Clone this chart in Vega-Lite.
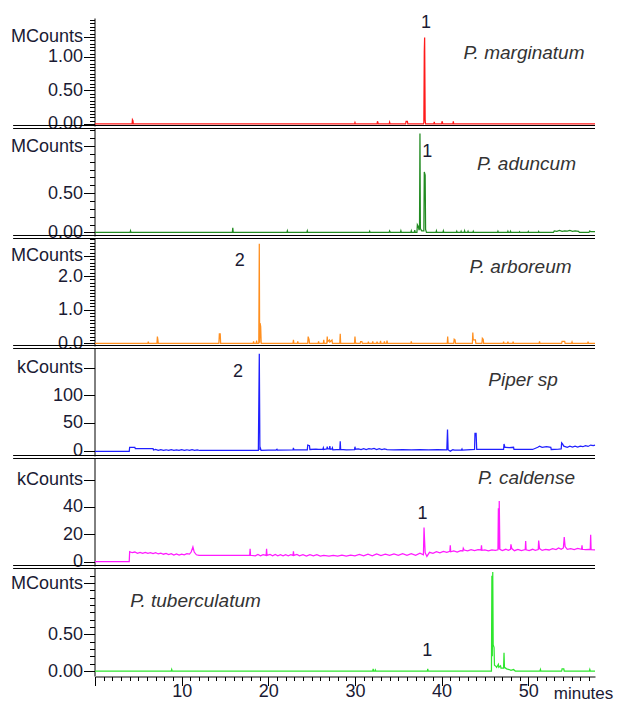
{
"$schema": "https://vega.github.io/schema/vega-lite/v6.json",
"padding": {"top": 11, "left": 5, "right": 5, "bottom": 2},
"spacing": 2,
"bounds": "flush",
"config": {
  "view": {"stroke": null},
  "font": "Liberation Sans",
  "axis": {"domainColor": "#000", "tickColor": "#000", "labelColor": "#1a1a33", "labelFontSize": 18, "labelFont": "Liberation Sans", "grid": false, "labelFlush": false, "labelOverlap": false},
  "axisY": {"minExtent": 89.5, "maxExtent": 89.5, "offset": 0.5, "tickSize": 11, "labelPadding": 1}
},
"datasets": {
  "p1": [{"t":0,"v":0},{"t":4.28,"v":0},{"t":4.32,"v":0.065},{"t":4.38,"v":0.05},{"t":4.42,"v":0},{"t":29.95,"v":0},{"t":30.0,"v":0.02},{"t":30.05,"v":0},{"t":32.55,"v":0},{"t":32.6,"v":0.04},{"t":32.65,"v":0.02},{"t":32.7,"v":0},{"t":33.95,"v":0},{"t":34.0,"v":0.025},{"t":34.05,"v":0},{"t":35.85,"v":0},{"t":35.9,"v":0.04},{"t":36.05,"v":0.04},{"t":36.1,"v":0},{"t":37.9,"v":0},{"t":37.95,"v":0.02},{"t":38.0,"v":1.07},{"t":38.04,"v":1.29},{"t":38.1,"v":0.05},{"t":38.15,"v":0},{"t":39.1,"v":0},{"t":39.15,"v":0.03},{"t":39.2,"v":0},{"t":40.0,"v":0},{"t":40.05,"v":0.04},{"t":40.1,"v":0.02},{"t":40.15,"v":0},{"t":41.3,"v":0},{"t":41.35,"v":0.04},{"t":41.4,"v":0},{"t":57.7,"v":0}],
  "p2": [{"t":0,"v":0},{"t":4.05,"v":0},{"t":4.1,"v":0.02},{"t":4.15,"v":0},{"t":15.85,"v":0},{"t":15.9,"v":0.06},{"t":15.95,"v":0},{"t":22.15,"v":0},{"t":22.2,"v":0.02},{"t":22.25,"v":0},{"t":24.45,"v":0},{"t":24.5,"v":0.02},{"t":24.55,"v":0},{"t":31.65,"v":0},{"t":31.7,"v":0.015},{"t":31.75,"v":0},{"t":33.95,"v":0},{"t":34.0,"v":0.02},{"t":34.05,"v":0.01},{"t":34.1,"v":0},{"t":35.25,"v":0},{"t":35.3,"v":0.02},{"t":35.35,"v":0},{"t":36.45,"v":0},{"t":36.5,"v":0.02},{"t":36.55,"v":0},{"t":36.85,"v":0},{"t":36.9,"v":0.03},{"t":36.95,"v":0},{"t":37.15,"v":0},{"t":37.2,"v":0.1},{"t":37.3,"v":0.08},{"t":37.4,"v":0.03},{"t":37.45,"v":0.05},{"t":37.5,"v":1.26},{"t":37.55,"v":0.05},{"t":37.7,"v":0.02},{"t":37.95,"v":0.02},{"t":38.0,"v":0.77},{"t":38.1,"v":0.73},{"t":38.15,"v":0.04},{"t":38.25,"v":0},{"t":39.35,"v":0},{"t":39.4,"v":0.02},{"t":39.45,"v":0},{"t":40.15,"v":0},{"t":40.2,"v":0.02},{"t":40.25,"v":0},{"t":41.7,"v":0},{"t":41.75,"v":0.015},{"t":41.8,"v":0},{"t":42.2,"v":0},{"t":42.25,"v":0.015},{"t":42.3,"v":0},{"t":42.6,"v":0},{"t":42.65,"v":0.02},{"t":42.7,"v":0},{"t":43.0,"v":0},{"t":43.05,"v":0.015},{"t":43.1,"v":0},{"t":43.6,"v":0},{"t":43.65,"v":0.015},{"t":43.7,"v":0},{"t":46.45,"v":0},{"t":46.5,"v":0.015},{"t":46.55,"v":0},{"t":47.6,"v":0},{"t":47.65,"v":0.015},{"t":47.7,"v":0},{"t":47.9,"v":0},{"t":47.95,"v":0.015},{"t":48.0,"v":0},{"t":48.95,"v":0},{"t":49.0,"v":0.01},{"t":49.05,"v":0},{"t":49.95,"v":0},{"t":50.0,"v":0.012},{"t":50.05,"v":0},{"t":51.15,"v":0},{"t":51.2,"v":0.012},{"t":51.25,"v":0},{"t":52.9,"v":0},{"t":53.0,"v":0.02},{"t":53.3,"v":0.015},{"t":53.6,"v":0.025},{"t":53.9,"v":0.015},{"t":54.2,"v":0.02},{"t":54.5,"v":0.018},{"t":54.8,"v":0.025},{"t":55.1,"v":0.015},{"t":55.4,"v":0.02},{"t":55.8,"v":0.015},{"t":55.9,"v":0},{"t":57.0,"v":0},{"t":57.1,"v":0.02},{"t":57.2,"v":0.01},{"t":57.7,"v":0.01}],
  "p3": [{"t":0,"v":0},{"t":6.1,"v":0},{"t":6.15,"v":0.05},{"t":6.2,"v":0},{"t":7.15,"v":0},{"t":7.2,"v":0.2},{"t":7.25,"v":0.12},{"t":7.3,"v":0},{"t":14.3,"v":0},{"t":14.35,"v":0.28},{"t":14.45,"v":0.28},{"t":14.5,"v":0},{"t":18.25,"v":0},{"t":18.3,"v":0.06},{"t":18.35,"v":0},{"t":18.6,"v":0},{"t":18.65,"v":0.08},{"t":18.7,"v":0},{"t":18.9,"v":0},{"t":18.96,"v":2.96},{"t":19.0,"v":0.02},{"t":19.05,"v":0.6},{"t":19.12,"v":0.5},{"t":19.18,"v":0},{"t":22.85,"v":0},{"t":22.9,"v":0.1},{"t":22.95,"v":0},{"t":23.35,"v":0},{"t":23.4,"v":0.06},{"t":23.45,"v":0},{"t":24.55,"v":0},{"t":24.6,"v":0.2},{"t":24.7,"v":0.12},{"t":24.75,"v":0},{"t":25.75,"v":0},{"t":25.8,"v":0.06},{"t":25.85,"v":0},{"t":26.35,"v":0},{"t":26.4,"v":0.1},{"t":26.45,"v":0},{"t":26.75,"v":0},{"t":26.8,"v":0.2},{"t":26.85,"v":0.05},{"t":27.05,"v":0.1},{"t":27.1,"v":0.04},{"t":27.35,"v":0.1},{"t":27.4,"v":0},{"t":28.25,"v":0},{"t":28.3,"v":0.28},{"t":28.35,"v":0},{"t":29.95,"v":0},{"t":30.0,"v":0.2},{"t":30.05,"v":0.05},{"t":30.1,"v":0},{"t":30.6,"v":0},{"t":30.65,"v":0.05},{"t":30.8,"v":0.05},{"t":30.85,"v":0},{"t":31.5,"v":0},{"t":31.55,"v":0.05},{"t":31.6,"v":0},{"t":32.0,"v":0},{"t":32.05,"v":0.06},{"t":32.1,"v":0},{"t":32.5,"v":0},{"t":32.55,"v":0.05},{"t":32.6,"v":0},{"t":32.9,"v":0},{"t":32.95,"v":0.07},{"t":33.0,"v":0},{"t":33.35,"v":0},{"t":33.4,"v":0.06},{"t":33.45,"v":0},{"t":33.65,"v":0},{"t":33.7,"v":0.08},{"t":33.75,"v":0},{"t":36.45,"v":0},{"t":36.5,"v":0.06},{"t":36.55,"v":0},{"t":40.65,"v":0},{"t":40.7,"v":0.2},{"t":40.75,"v":0},{"t":41.4,"v":0},{"t":41.45,"v":0.12},{"t":41.55,"v":0.1},{"t":41.6,"v":0},{"t":43.55,"v":0},{"t":43.6,"v":0.32},{"t":43.65,"v":0.1},{"t":43.9,"v":0.1},{"t":43.95,"v":0},{"t":44.65,"v":0},{"t":44.7,"v":0.15},{"t":44.8,"v":0.12},{"t":44.85,"v":0},{"t":47.1,"v":0},{"t":47.15,"v":0.05},{"t":47.2,"v":0},{"t":47.6,"v":0},{"t":47.65,"v":0.05},{"t":47.7,"v":0},{"t":48.2,"v":0},{"t":48.25,"v":0.05},{"t":48.3,"v":0},{"t":51.25,"v":0},{"t":51.3,"v":0.06},{"t":51.35,"v":0},{"t":53.85,"v":0},{"t":53.9,"v":0.06},{"t":54.2,"v":0.06},{"t":54.25,"v":0},{"t":55.0,"v":0},{"t":55.05,"v":0.04},{"t":55.1,"v":0},{"t":56.85,"v":0},{"t":56.9,"v":0.05},{"t":56.95,"v":0},{"t":57.7,"v":0}],
  "p4": [{"t":0,"v":-1.5},{"t":3.95,"v":-1.5},{"t":4.0,"v":6},{"t":4.6,"v":6},{"t":4.65,"v":3.6},{"t":6.7,"v":3.6},{"t":6.75,"v":1},{"t":7.0,"v":2},{"t":7.3,"v":0.5},{"t":7.6,"v":1.8},{"t":7.9,"v":0.5},{"t":8.2,"v":1.5},{"t":8.5,"v":0.3},{"t":8.8,"v":1.8},{"t":9.1,"v":0.5},{"t":9.4,"v":1.5},{"t":9.7,"v":0.4},{"t":10.0,"v":1.8},{"t":10.3,"v":0.5},{"t":10.6,"v":1.5},{"t":10.9,"v":0.3},{"t":11.2,"v":1.6},{"t":11.5,"v":0.5},{"t":11.8,"v":1.2},{"t":12.1,"v":0.2},{"t":14.0,"v":0.2},{"t":16.0,"v":0.2},{"t":18.85,"v":0.3},{"t":18.96,"v":175},{"t":19.03,"v":1},{"t":19.1,"v":4},{"t":19.17,"v":0.5},{"t":20.0,"v":1.0},{"t":20.9,"v":1.0},{"t":21.0,"v":2.5},{"t":21.05,"v":1},{"t":22.85,"v":1.2},{"t":22.9,"v":5},{"t":22.95,"v":1.2},{"t":24.5,"v":1.5},{"t":24.55,"v":10},{"t":24.75,"v":9},{"t":24.8,"v":2},{"t":25.5,"v":2.5},{"t":25.8,"v":2},{"t":26.3,"v":2.5},{"t":26.35,"v":5},{"t":26.4,"v":2},{"t":26.75,"v":3},{"t":26.8,"v":7},{"t":26.85,"v":3},{"t":27.05,"v":3},{"t":27.1,"v":8},{"t":27.15,"v":2.5},{"t":27.35,"v":3},{"t":27.4,"v":5},{"t":27.45,"v":1.5},{"t":28.25,"v":2},{"t":28.3,"v":17},{"t":28.35,"v":2},{"t":29.0,"v":1.5},{"t":29.95,"v":1.8},{"t":30.0,"v":7},{"t":30.05,"v":2.5},{"t":30.4,"v":3},{"t":30.7,"v":2},{"t":31.0,"v":3.5},{"t":31.3,"v":2},{"t":31.6,"v":3.5},{"t":31.9,"v":2.5},{"t":32.2,"v":4},{"t":32.5,"v":2},{"t":32.8,"v":3.5},{"t":33.1,"v":2},{"t":33.4,"v":3},{"t":33.7,"v":1.8},{"t":34.5,"v":1.5},{"t":35.5,"v":1.8},{"t":36.5,"v":1.5},{"t":37.5,"v":1.8},{"t":38.5,"v":1.5},{"t":39.5,"v":1.8},{"t":40.6,"v":1.5},{"t":40.68,"v":38},{"t":40.75,"v":1.5},{"t":41.0,"v":-1},{"t":41.3,"v":1.5},{"t":41.5,"v":1.0},{"t":42.3,"v":1.5},{"t":42.35,"v":3},{"t":42.4,"v":1},{"t":43.8,"v":2},{"t":43.85,"v":31},{"t":43.98,"v":31},{"t":44.05,"v":2},{"t":44.5,"v":2},{"t":45.5,"v":2},{"t":46.5,"v":2},{"t":47.15,"v":2},{"t":47.2,"v":12},{"t":47.3,"v":6},{"t":47.4,"v":6},{"t":47.8,"v":5.5},{"t":48.3,"v":6},{"t":48.35,"v":2},{"t":49.5,"v":2},{"t":50.5,"v":2},{"t":51.1,"v":6},{"t":51.3,"v":8},{"t":51.6,"v":6},{"t":52.1,"v":7},{"t":52.6,"v":6},{"t":52.65,"v":2},{"t":53.5,"v":2.5},{"t":53.8,"v":3},{"t":53.85,"v":14},{"t":53.95,"v":12},{"t":54.1,"v":8},{"t":54.5,"v":6},{"t":54.8,"v":8},{"t":55.1,"v":6.5},{"t":55.4,"v":8},{"t":55.7,"v":6.5},{"t":56.0,"v":8},{"t":56.3,"v":7},{"t":56.6,"v":9},{"t":56.9,"v":7.5},{"t":57.2,"v":10},{"t":57.5,"v":9},{"t":57.7,"v":10}],
  "p5": [{"t":0,"v":0},{"t":3.95,"v":0},{"t":4.0,"v":7.3},{"t":4.3,"v":6.5},{"t":4.6,"v":7},{"t":4.9,"v":6},{"t":5.2,"v":6.8},{"t":5.5,"v":6},{"t":5.8,"v":6.8},{"t":6.1,"v":6},{"t":6.4,"v":6.6},{"t":6.7,"v":5.8},{"t":7.0,"v":6.5},{"t":7.3,"v":5.6},{"t":7.6,"v":6.2},{"t":7.9,"v":5.4},{"t":8.2,"v":6},{"t":8.5,"v":5.2},{"t":8.8,"v":5.8},{"t":9.1,"v":4.8},{"t":9.4,"v":5.6},{"t":9.7,"v":4.8},{"t":10.0,"v":5.5},{"t":10.3,"v":5},{"t":10.6,"v":5.8},{"t":10.9,"v":5.5},{"t":11.1,"v":7},{"t":11.3,"v":10.7},{"t":11.45,"v":7},{"t":11.7,"v":5},{"t":12.0,"v":4.6},{"t":14.0,"v":4.6},{"t":16.0,"v":4.6},{"t":17.85,"v":4.6},{"t":17.9,"v":9.4},{"t":17.95,"v":4.6},{"t":18.5,"v":4.2},{"t":18.8,"v":5.2},{"t":19.1,"v":4.2},{"t":19.4,"v":5},{"t":19.75,"v":4.5},{"t":19.8,"v":9.4},{"t":19.85,"v":4.5},{"t":20.2,"v":5.2},{"t":20.5,"v":4.2},{"t":20.8,"v":5.2},{"t":21.1,"v":4.3},{"t":21.4,"v":5},{"t":21.7,"v":4.2},{"t":22.0,"v":5},{"t":22.3,"v":4.3},{"t":22.6,"v":5},{"t":22.85,"v":4.5},{"t":22.9,"v":7.5},{"t":22.95,"v":4.5},{"t":23.3,"v":5.2},{"t":23.6,"v":4.2},{"t":24.0,"v":5},{"t":24.4,"v":4},{"t":24.8,"v":5},{"t":25.2,"v":4.2},{"t":25.6,"v":5},{"t":26.0,"v":4},{"t":26.4,"v":4.5},{"t":27,"v":4},{"t":27.5,"v":4.6},{"t":28,"v":4},{"t":28.5,"v":4.8},{"t":29,"v":4},{"t":29.5,"v":4.8},{"t":30,"v":4.2},{"t":30.5,"v":5.2},{"t":31,"v":4.2},{"t":31.5,"v":5.5},{"t":32,"v":4.3},{"t":32.5,"v":5.6},{"t":33,"v":4.4},{"t":33.5,"v":5.5},{"t":34,"v":4.5},{"t":34.5,"v":5.6},{"t":35,"v":4.5},{"t":35.5,"v":5.8},{"t":36,"v":4.6},{"t":36.5,"v":5.8},{"t":37,"v":4.6},{"t":37.5,"v":6.2},{"t":37.9,"v":5},{"t":37.97,"v":24.9},{"t":38.03,"v":16},{"t":38.1,"v":6.5},{"t":38.3,"v":3.8},{"t":38.6,"v":6.8},{"t":39.0,"v":6},{"t":39.4,"v":7.2},{"t":39.8,"v":6.4},{"t":40.2,"v":7.5},{"t":40.6,"v":6.8},{"t":40.95,"v":7.5},{"t":41.0,"v":12},{"t":41.05,"v":7.2},{"t":41.4,"v":7.8},{"t":41.8,"v":7},{"t":42.2,"v":8},{"t":42.45,"v":7.8},{"t":42.5,"v":9.8},{"t":42.6,"v":8.5},{"t":43,"v":7.8},{"t":43.4,"v":8.8},{"t":43.8,"v":8},{"t":44.2,"v":8.8},{"t":44.55,"v":8.5},{"t":44.6,"v":12},{"t":44.65,"v":8.2},{"t":45,"v":8.5},{"t":45.4,"v":7.8},{"t":45.8,"v":8.5},{"t":46.2,"v":8.2},{"t":46.5,"v":8.6},{"t":46.55,"v":39},{"t":46.6,"v":9},{"t":46.65,"v":44.4},{"t":46.72,"v":9},{"t":47.0,"v":8},{"t":47.4,"v":9},{"t":47.7,"v":8.2},{"t":47.95,"v":9},{"t":48.0,"v":12.6},{"t":48.1,"v":9.5},{"t":48.4,"v":8},{"t":48.8,"v":9},{"t":49.2,"v":8},{"t":49.65,"v":8.8},{"t":49.7,"v":15},{"t":49.75,"v":8.6},{"t":50.1,"v":8},{"t":50.5,"v":9},{"t":50.8,"v":8.2},{"t":51.15,"v":8.8},{"t":51.2,"v":15.4},{"t":51.3,"v":9.5},{"t":51.6,"v":8.2},{"t":52,"v":9},{"t":52.4,"v":8.5},{"t":52.8,"v":9.5},{"t":53.2,"v":8.8},{"t":53.5,"v":10},{"t":53.8,"v":9},{"t":54.05,"v":10},{"t":54.15,"v":18},{"t":54.25,"v":11},{"t":54.5,"v":9},{"t":54.9,"v":9.5},{"t":55.3,"v":8.8},{"t":55.7,"v":9.6},{"t":56.15,"v":9},{"t":56.2,"v":12},{"t":56.25,"v":9},{"t":56.6,"v":8.8},{"t":57.0,"v":9},{"t":57.15,"v":8.8},{"t":57.2,"v":19.6},{"t":57.25,"v":8.8},{"t":57.7,"v":8.6}],
  "p6": [{"t":0,"v":0},{"t":8.8,"v":0},{"t":8.85,"v":0.02},{"t":8.9,"v":0},{"t":32.05,"v":0},{"t":32.1,"v":0.03},{"t":32.15,"v":0},{"t":32.3,"v":0},{"t":32.35,"v":0.015},{"t":32.4,"v":0},{"t":38.35,"v":0},{"t":38.4,"v":0.03},{"t":38.45,"v":0},{"t":45.75,"v":0},{"t":45.8,"v":1.3},{"t":45.85,"v":0.2},{"t":45.9,"v":1.35},{"t":45.95,"v":0.36},{"t":46.05,"v":0.32},{"t":46.1,"v":0.08},{"t":46.3,"v":0.06},{"t":46.35,"v":0.05},{"t":46.55,"v":0.09},{"t":46.6,"v":0.05},{"t":46.8,"v":0.07},{"t":46.85,"v":0.04},{"t":47.15,"v":0.04},{"t":47.2,"v":0.25},{"t":47.25,"v":0.05},{"t":47.5,"v":0.03},{"t":47.8,"v":0.02},{"t":48.0,"v":0.01},{"t":48.3,"v":0.02},{"t":48.5,"v":0},{"t":51.35,"v":0},{"t":51.4,"v":0.02},{"t":51.45,"v":0},{"t":53.85,"v":0},{"t":53.9,"v":0.03},{"t":54.1,"v":0.03},{"t":54.15,"v":0},{"t":57.05,"v":0},{"t":57.1,"v":0.02},{"t":57.15,"v":0},{"t":57.7,"v":0}],
  "lab": [{"p":1,"t":38.2,"v":1.5,"s":"1","k":"n"},{"p":1,"t":49.5,"v":1.06,"s":"P. marginatum","k":"s"},{"p":2,"t":38.35,"v":1.02,"s":"1","k":"n"},{"p":2,"t":49.8,"v":0.875,"s":"P. aduncum","k":"s"},{"p":3,"t":16.7,"v":2.46,"s":"2","k":"n"},{"p":3,"t":49.1,"v":2.28,"s":"P. arboreum","k":"s"},{"p":4,"t":16.5,"v":141,"s":"2","k":"n"},{"p":4,"t":49.4,"v":127,"s":"Piper sp","k":"s"},{"p":5,"t":37.8,"v":35.1,"s":"1","k":"n"},{"p":5,"t":49.8,"v":61.4,"s":"P. caldense","k":"s"},{"p":6,"t":38.35,"v":0.27,"s":"1","k":"n"},{"p":6,"t":11.6,"v":0.96,"s":"P. tuberculatum","k":"s"}]
},
"vconcat": [
 {"width": 500, "height": 108, "resolve": {"axis": {"x": "independent", "y": "independent"}}, "layer": [
  {"data": {"name": "p1"}, "mark": {"type": "line", "color": "#ff1a1a", "strokeWidth": 1.25},
   "encoding": {"x": {"field": "t", "type": "quantitative", "scale": {"domain": [0, 57.7], "nice": false, "zero": false}, "axis": null},
    "y": {"field": "v", "type": "quantitative", "scale": {"domain": [-0.03, 1.582], "nice": false, "zero": false}, "title": null,
     "axis": {"orient": "left", "values": [0,0.05,0.1,0.15,0.2,0.25,0.3,0.35,0.4,0.45,0.5,0.55,0.6,0.65,0.7,0.75,0.8,0.85,0.9,0.95,1,1.05,1.1,1.15,1.2,1.25,1.3,1.35,1.4,1.45,1.5,1.55],
      "labelExpr": "round(datum.value*100)==130 ? 'MCounts' : (indexof([0,50,100], round(datum.value*100)) >= 0 ? format(datum.value, '.2f') : '')",
      "tickDash": {"condition": {"test": "indexof([0,50,100,130], round(datum.value*100)) >= 0", "value": []}, "value": [5, 40]}}}}},
  {"data": {"values": [{}]}, "mark": {"type": "rule", "color": "#000", "strokeWidth": 1},
   "encoding": {"x": {"datum": -9.45, "type": "quantitative", "scale": {"domain": [0, 57.7], "nice": false, "zero": false}, "axis": null}, "x2": {"datum": 57.7},
    "y": {"datum": -0.0225, "type": "quantitative", "scale": {"domain": [-0.03, 1.582], "nice": false, "zero": false}, "axis": null}}},
  {"data": {"name": "lab"}, "transform": [{"filter": "datum.p==1 && datum.k=='n'"}], "mark": {"type": "text", "fontSize": 18, "color": "#1a1a33", "align": "center", "baseline": "middle"},
   "encoding": {"x": {"field": "t", "type": "quantitative", "scale": {"domain": [0, 57.7], "nice": false, "zero": false}, "axis": null}, "y": {"field": "v", "type": "quantitative", "scale": {"domain": [-0.03, 1.582], "nice": false, "zero": false}, "axis": null}, "text": {"field": "s"}}},
  {"data": {"name": "lab"}, "transform": [{"filter": "datum.p==1 && datum.k=='s'"}], "mark": {"type": "text", "fontSize": 19, "fontStyle": "italic", "color": "#333333", "align": "center", "baseline": "middle"},
   "encoding": {"x": {"field": "t", "type": "quantitative", "scale": {"domain": [0, 57.7], "nice": false, "zero": false}, "axis": null}, "y": {"field": "v", "type": "quantitative", "scale": {"domain": [-0.03, 1.582], "nice": false, "zero": false}, "axis": null}, "text": {"field": "s"}}}
 ]},
 {"width": 500, "height": 108, "resolve": {"axis": {"x": "independent", "y": "independent"}}, "layer": [
  {"data": {"name": "p2"}, "mark": {"type": "line", "color": "#228b22", "strokeWidth": 1.25},
   "encoding": {"x": {"field": "t", "type": "quantitative", "scale": {"domain": [0, 57.7], "nice": false, "zero": false}, "axis": null},
    "y": {"field": "v", "type": "quantitative", "scale": {"domain": [-0.045, 1.33], "nice": false, "zero": false}, "title": null,
     "axis": {"orient": "left", "values": [0,0.1,0.2,0.3,0.4,0.5,0.6,0.7,0.8,0.9,1,1.1,1.2,1.3],
      "labelExpr": "round(datum.value*100)==110 ? 'MCounts' : (indexof([0,50], round(datum.value*100)) >= 0 ? format(datum.value, '.2f') : '')",
      "tickDash": {"condition": {"test": "indexof([0,50,110], round(datum.value*100)) >= 0", "value": []}, "value": [5, 40]}}}}},
  {"data": {"values": [{}]}, "mark": {"type": "rule", "color": "#000", "strokeWidth": 1},
   "encoding": {"x": {"datum": -9.45, "type": "quantitative", "scale": {"domain": [0, 57.7], "nice": false, "zero": false}, "axis": null}, "x2": {"datum": 57.7},
    "y": {"datum": -0.0386, "type": "quantitative", "scale": {"domain": [-0.045, 1.33], "nice": false, "zero": false}, "axis": null}}},
  {"data": {"values": [{}]}, "mark": {"type": "rule", "color": "#000", "strokeWidth": 1},
   "encoding": {"x": {"datum": -9.45, "type": "quantitative", "scale": {"domain": [0, 57.7], "nice": false, "zero": false}, "axis": null}, "x2": {"datum": 57.7},
    "y": {"datum": 1.3236, "type": "quantitative", "scale": {"domain": [-0.045, 1.33], "nice": false, "zero": false}, "axis": null}}},
  {"data": {"name": "lab"}, "transform": [{"filter": "datum.p==2 && datum.k=='n'"}], "mark": {"type": "text", "fontSize": 18, "color": "#1a1a33", "align": "center", "baseline": "middle"},
   "encoding": {"x": {"field": "t", "type": "quantitative", "scale": {"domain": [0, 57.7], "nice": false, "zero": false}, "axis": null}, "y": {"field": "v", "type": "quantitative", "scale": {"domain": [-0.045, 1.33], "nice": false, "zero": false}, "axis": null}, "text": {"field": "s"}}},
  {"data": {"name": "lab"}, "transform": [{"filter": "datum.p==2 && datum.k=='s'"}], "mark": {"type": "text", "fontSize": 19, "fontStyle": "italic", "color": "#333333", "align": "center", "baseline": "middle"},
   "encoding": {"x": {"field": "t", "type": "quantitative", "scale": {"domain": [0, 57.7], "nice": false, "zero": false}, "axis": null}, "y": {"field": "v", "type": "quantitative", "scale": {"domain": [-0.045, 1.33], "nice": false, "zero": false}, "axis": null}, "text": {"field": "s"}}}
 ]},
 {"width": 500, "height": 108, "resolve": {"axis": {"x": "independent", "y": "independent"}}, "layer": [
  {"data": {"name": "p3"}, "mark": {"type": "line", "color": "#ff8f1f", "strokeWidth": 1.25},
   "encoding": {"x": {"field": "t", "type": "quantitative", "scale": {"domain": [0, 57.7], "nice": false, "zero": false}, "axis": null},
    "y": {"field": "v", "type": "quantitative", "scale": {"domain": [-0.08, 3.134], "nice": false, "zero": false}, "title": null,
     "axis": {"orient": "left", "values": [0,0.1,0.2,0.3,0.4,0.5,0.6,0.7,0.8,0.9,1,1.1,1.2,1.3,1.4,1.5,1.6,1.7,1.8,1.9,2,2.1,2.2,2.3,2.4,2.5,2.6,2.7,2.8,2.9,3,3.1],
      "labelExpr": "round(datum.value*10)==26 ? 'MCounts' : (indexof([0,10,20], round(datum.value*10)) >= 0 ? format(datum.value, '.1f') : '')",
      "tickDash": {"condition": {"test": "indexof([0,10,20,26], round(datum.value*10)) >= 0", "value": []}, "value": [5, 40]}}}}},
  {"data": {"values": [{}]}, "mark": {"type": "rule", "color": "#000", "strokeWidth": 1},
   "encoding": {"x": {"datum": -9.45, "type": "quantitative", "scale": {"domain": [0, 57.7], "nice": false, "zero": false}, "axis": null}, "x2": {"datum": 57.7},
    "y": {"datum": -0.0651, "type": "quantitative", "scale": {"domain": [-0.08, 3.134], "nice": false, "zero": false}, "axis": null}}},
  {"data": {"values": [{}]}, "mark": {"type": "rule", "color": "#000", "strokeWidth": 1},
   "encoding": {"x": {"datum": -9.45, "type": "quantitative", "scale": {"domain": [0, 57.7], "nice": false, "zero": false}, "axis": null}, "x2": {"datum": 57.7},
    "y": {"datum": 3.1191, "type": "quantitative", "scale": {"domain": [-0.08, 3.134], "nice": false, "zero": false}, "axis": null}}},
  {"data": {"name": "lab"}, "transform": [{"filter": "datum.p==3 && datum.k=='n'"}], "mark": {"type": "text", "fontSize": 18, "color": "#1a1a33", "align": "center", "baseline": "middle"},
   "encoding": {"x": {"field": "t", "type": "quantitative", "scale": {"domain": [0, 57.7], "nice": false, "zero": false}, "axis": null}, "y": {"field": "v", "type": "quantitative", "scale": {"domain": [-0.08, 3.134], "nice": false, "zero": false}, "axis": null}, "text": {"field": "s"}}},
  {"data": {"name": "lab"}, "transform": [{"filter": "datum.p==3 && datum.k=='s'"}], "mark": {"type": "text", "fontSize": 19, "fontStyle": "italic", "color": "#333333", "align": "center", "baseline": "middle"},
   "encoding": {"x": {"field": "t", "type": "quantitative", "scale": {"domain": [0, 57.7], "nice": false, "zero": false}, "axis": null}, "y": {"field": "v", "type": "quantitative", "scale": {"domain": [-0.08, 3.134], "nice": false, "zero": false}, "axis": null}, "text": {"field": "s"}}}
 ]},
 {"width": 500, "height": 108, "resolve": {"axis": {"x": "independent", "y": "independent"}}, "layer": [
  {"data": {"name": "p4"}, "mark": {"type": "line", "color": "#2020ff", "strokeWidth": 1.25},
   "encoding": {"x": {"field": "t", "type": "quantitative", "scale": {"domain": [0, 57.7], "nice": false, "zero": false}, "axis": null},
    "y": {"field": "v", "type": "quantitative", "scale": {"domain": [-9.75, 185.2], "nice": false, "zero": false}, "title": null,
     "axis": {"orient": "left", "values": [0, 50, 100, 150], "labelExpr": "datum.value==150 ? 'kCounts' : datum.label"}}}},
  {"data": {"values": [{}]}, "mark": {"type": "rule", "color": "#000", "strokeWidth": 1},
   "encoding": {"x": {"datum": -9.45, "type": "quantitative", "scale": {"domain": [0, 57.7], "nice": false, "zero": false}, "axis": null}, "x2": {"datum": 57.7},
    "y": {"datum": -8.8475, "type": "quantitative", "scale": {"domain": [-9.75, 185.2], "nice": false, "zero": false}, "axis": null}}},
  {"data": {"values": [{}]}, "mark": {"type": "rule", "color": "#000", "strokeWidth": 1},
   "encoding": {"x": {"datum": -9.45, "type": "quantitative", "scale": {"domain": [0, 57.7], "nice": false, "zero": false}, "axis": null}, "x2": {"datum": 57.7},
    "y": {"datum": 184.2975, "type": "quantitative", "scale": {"domain": [-9.75, 185.2], "nice": false, "zero": false}, "axis": null}}},
  {"data": {"name": "lab"}, "transform": [{"filter": "datum.p==4 && datum.k=='n'"}], "mark": {"type": "text", "fontSize": 18, "color": "#1a1a33", "align": "center", "baseline": "middle"},
   "encoding": {"x": {"field": "t", "type": "quantitative", "scale": {"domain": [0, 57.7], "nice": false, "zero": false}, "axis": null}, "y": {"field": "v", "type": "quantitative", "scale": {"domain": [-9.75, 185.2], "nice": false, "zero": false}, "axis": null}, "text": {"field": "s"}}},
  {"data": {"name": "lab"}, "transform": [{"filter": "datum.p==4 && datum.k=='s'"}], "mark": {"type": "text", "fontSize": 19, "fontStyle": "italic", "color": "#333333", "align": "center", "baseline": "middle"},
   "encoding": {"x": {"field": "t", "type": "quantitative", "scale": {"domain": [0, 57.7], "nice": false, "zero": false}, "axis": null}, "y": {"field": "v", "type": "quantitative", "scale": {"domain": [-9.75, 185.2], "nice": false, "zero": false}, "axis": null}, "text": {"field": "s"}}}
 ]},
 {"width": 500, "height": 108, "resolve": {"axis": {"x": "independent", "y": "independent"}}, "layer": [
  {"data": {"name": "p5"}, "mark": {"type": "line", "color": "#ff1aff", "strokeWidth": 1.25},
   "encoding": {"x": {"field": "t", "type": "quantitative", "scale": {"domain": [0, 57.7], "nice": false, "zero": false}, "axis": null},
    "y": {"field": "v", "type": "quantitative", "scale": {"domain": [-3.22, 75.8], "nice": false, "zero": false}, "title": null,
     "axis": {"orient": "left", "values": [0, 20, 40, 60], "labelExpr": "datum.value==60 ? 'kCounts' : datum.label"}}}},
  {"data": {"values": [{}]}, "mark": {"type": "rule", "color": "#000", "strokeWidth": 1},
   "encoding": {"x": {"datum": -9.45, "type": "quantitative", "scale": {"domain": [0, 57.7], "nice": false, "zero": false}, "axis": null}, "x2": {"datum": 57.7},
    "y": {"datum": -2.8542, "type": "quantitative", "scale": {"domain": [-3.22, 75.8], "nice": false, "zero": false}, "axis": null}}},
  {"data": {"values": [{}]}, "mark": {"type": "rule", "color": "#000", "strokeWidth": 1},
   "encoding": {"x": {"datum": -9.45, "type": "quantitative", "scale": {"domain": [0, 57.7], "nice": false, "zero": false}, "axis": null}, "x2": {"datum": 57.7},
    "y": {"datum": 75.4342, "type": "quantitative", "scale": {"domain": [-3.22, 75.8], "nice": false, "zero": false}, "axis": null}}},
  {"data": {"name": "lab"}, "transform": [{"filter": "datum.p==5 && datum.k=='n'"}], "mark": {"type": "text", "fontSize": 18, "color": "#1a1a33", "align": "center", "baseline": "middle"},
   "encoding": {"x": {"field": "t", "type": "quantitative", "scale": {"domain": [0, 57.7], "nice": false, "zero": false}, "axis": null}, "y": {"field": "v", "type": "quantitative", "scale": {"domain": [-3.22, 75.8], "nice": false, "zero": false}, "axis": null}, "text": {"field": "s"}}},
  {"data": {"name": "lab"}, "transform": [{"filter": "datum.p==5 && datum.k=='s'"}], "mark": {"type": "text", "fontSize": 19, "fontStyle": "italic", "color": "#333333", "align": "center", "baseline": "middle"},
   "encoding": {"x": {"field": "t", "type": "quantitative", "scale": {"domain": [0, 57.7], "nice": false, "zero": false}, "axis": null}, "y": {"field": "v", "type": "quantitative", "scale": {"domain": [-3.22, 75.8], "nice": false, "zero": false}, "axis": null}, "text": {"field": "s"}}}
 ]},
 {"width": 500, "height": 108, "resolve": {"axis": {"x": "independent", "y": "independent"}}, "layer": [
  {"data": {"name": "p6"}, "mark": {"type": "line", "color": "#2ee62e", "strokeWidth": 1.25},
   "encoding": {"x": {"field": "t", "type": "quantitative", "scale": {"domain": [0, 57.7], "nice": false, "zero": false},
     "axis": {"orient": "bottom", "offset": 0.5, "values": [0,1,2,3,4,5,6,7,8,9,10,11,12,13,14,15,16,17,18,19,20,21,22,23,24,25,26,27,28,29,30,31,32,33,34,35,36,37,38,39,40,41,42,43,44,45,46,47,48,49,50,51,52,53,54,55,56,57],
      "labelExpr": "datum.value % 10 == 0 && datum.value > 0 ? datum.label : ''", "tickSize": 9, "labelPadding": -3,
      "tickDash": {"condition": {"test": "datum.value % 10 == 0", "value": []}, "value": [4, 40]},
      "title": "minutes", "titleX": 488, "titleY": 22, "titleAlign": "center", "titleBaseline": "alphabetic", "titleFontSize": 17, "titleFontWeight": "normal", "titleColor": "#1a1a33", "titleFont": "Liberation Sans"}},
    "y": {"field": "v", "type": "quantitative", "scale": {"domain": [-0.068, 1.405], "nice": false, "zero": false}, "title": null,
     "axis": {"orient": "left", "values": [0,0.1,0.2,0.3,0.4,0.5,0.6,0.7,0.8,0.9,1,1.1,1.2,1.3,1.4],
      "labelExpr": "round(datum.value*100)==120 ? 'MCounts' : (indexof([0,50], round(datum.value*100)) >= 0 ? format(datum.value, '.2f') : '')",
      "tickDash": {"condition": {"test": "indexof([0,50,120], round(datum.value*100)) >= 0", "value": []}, "value": [5, 40]}}}}},
  {"data": {"values": [{}]}, "mark": {"type": "rule", "color": "#000", "strokeWidth": 1},
   "encoding": {"x": {"datum": -9.45, "type": "quantitative", "scale": {"domain": [0, 57.7], "nice": false, "zero": false}, "axis": null}, "x2": {"datum": 57.7},
    "y": {"datum": 1.3982, "type": "quantitative", "scale": {"domain": [-0.068, 1.405], "nice": false, "zero": false}, "axis": null}}},
  {"data": {"name": "lab"}, "transform": [{"filter": "datum.p==6 && datum.k=='n'"}], "mark": {"type": "text", "fontSize": 18, "color": "#1a1a33", "align": "center", "baseline": "middle"},
   "encoding": {"x": {"field": "t", "type": "quantitative", "scale": {"domain": [0, 57.7], "nice": false, "zero": false}, "axis": null}, "y": {"field": "v", "type": "quantitative", "scale": {"domain": [-0.068, 1.405], "nice": false, "zero": false}, "axis": null}, "text": {"field": "s"}}},
  {"data": {"name": "lab"}, "transform": [{"filter": "datum.p==6 && datum.k=='s'"}], "mark": {"type": "text", "fontSize": 19, "fontStyle": "italic", "color": "#333333", "align": "center", "baseline": "middle"},
   "encoding": {"x": {"field": "t", "type": "quantitative", "scale": {"domain": [0, 57.7], "nice": false, "zero": false}, "axis": null}, "y": {"field": "v", "type": "quantitative", "scale": {"domain": [-0.068, 1.405], "nice": false, "zero": false}, "axis": null}, "text": {"field": "s"}}}
 ]}
]
}
